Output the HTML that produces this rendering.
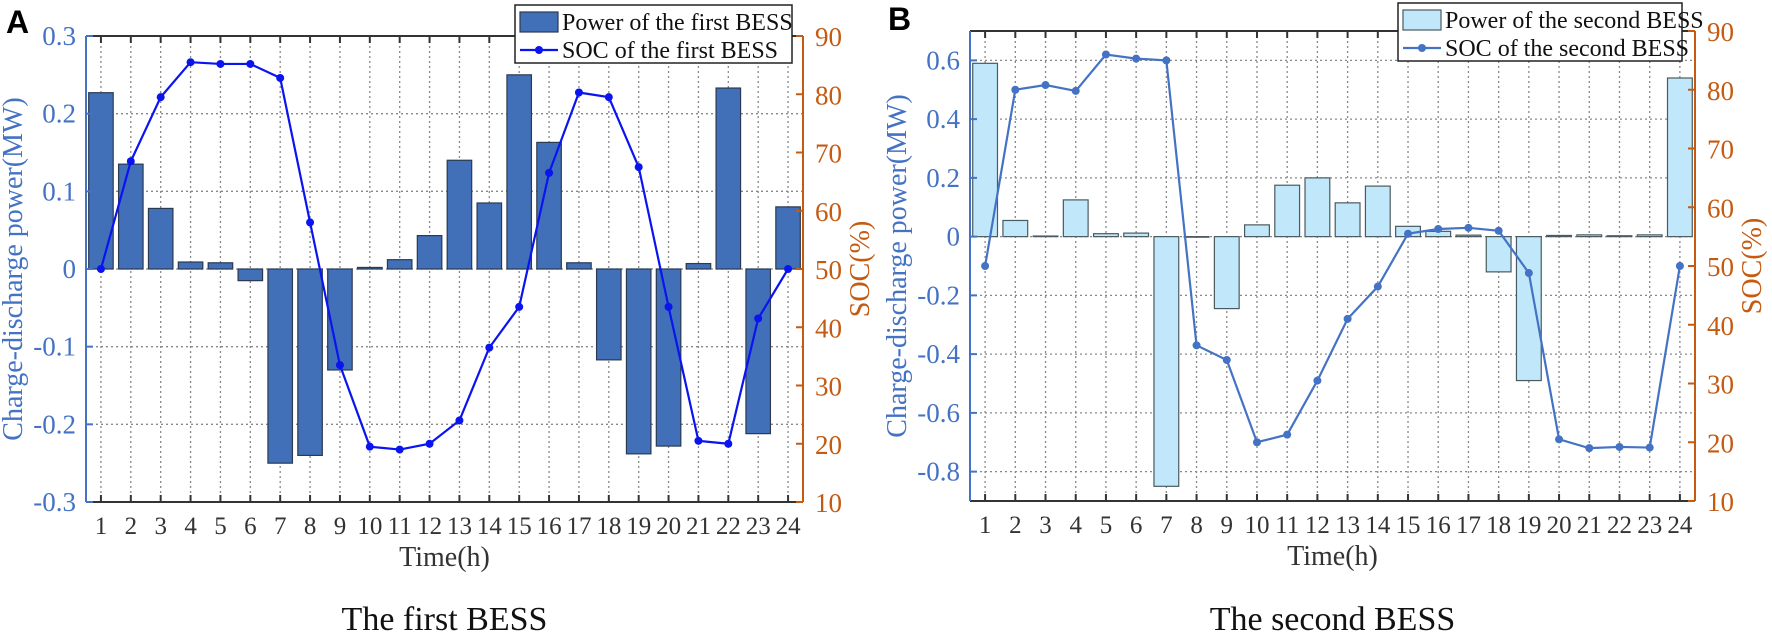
<!DOCTYPE html><html><head><meta charset="utf-8"><style>body{margin:0;background:#fff}svg{display:block}svg text{font-family:"Liberation Serif","Times New Roman",serif}svg text.lab{font-family:"Liberation Sans",sans-serif}</style></head><body>
<svg id="s" width="1772" height="641" font-family="Liberation Serif, serif" xmlns="http://www.w3.org/2000/svg"></svg>
<script>
const S=document.getElementById('s');let h='';
const F='font-family="Liberation Serif, serif"';
function panel(o){
 const {L,R,T,B,ymin,ymax,yt,pw,soc,bar,barE,line,label,title,leg,lx,ly,lw,lh,lab}=o;
 const n=24,dx=(R-L)/n,X=i=>L+dx*(i+0.5),Y=v=>B-(v-ymin)/(ymax-ymin)*(B-T),Ys=v=>B-(v-10)/80*(B-T);
 for(let i=0;i<n;i++)h+=`<line x1="${X(i)}" y1="${T}" x2="${X(i)}" y2="${B}" stroke="#888" stroke-width="1.3" stroke-dasharray="2,3"/>`;
 yt.forEach(v=>h+=`<line x1="${L}" y1="${Y(v)}" x2="${R}" y2="${Y(v)}" stroke="#888" stroke-width="1.3" stroke-dasharray="2,3"/>`);
 pw.forEach((v,i)=>{const y0=Y(0),y1=Y(v);h+=`<rect x="${X(i)-dx*0.41}" y="${Math.min(y0,y1)}" width="${dx*0.82}" height="${Math.abs(y1-y0)}" fill="${bar}" stroke="${barE}" stroke-width="1.2"/>`});
 h+=`<polyline fill="none" stroke="${line}" stroke-width="2.2" points="${soc.map((v,i)=>X(i)+','+Ys(v)).join(' ')}"/>`;
 soc.forEach((v,i)=>h+=`<circle cx="${X(i)}" cy="${Ys(v)}" r="4" fill="${line}"/>`);
 h+=`<line x1="${L}" y1="${T}" x2="${R}" y2="${T}" stroke="#333" stroke-width="2"/><line x1="${L}" y1="${B}" x2="${R}" y2="${B}" stroke="#333" stroke-width="2"/>`;
 h+=`<line x1="${L}" y1="${T}" x2="${L}" y2="${B}" stroke="#4472c4" stroke-width="2"/><line x1="${R}" y1="${T}" x2="${R}" y2="${B}" stroke="#c55a11" stroke-width="2"/>`;
 for(let i=0;i<n;i++){h+=`<line x1="${X(i)}" y1="${T}" x2="${X(i)}" y2="${T+7}" stroke="#333" stroke-width="2"/><line x1="${X(i)}" y1="${B}" x2="${X(i)}" y2="${B-7}" stroke="#333" stroke-width="2"/>`;
  h+=`<text ${F} x="${X(i)}" y="${B+32}" font-size="25" text-anchor="middle" fill="#333">${i+1}</text>`;}
 yt.forEach(v=>{h+=`<line x1="${L}" y1="${Y(v)}" x2="${L+7}" y2="${Y(v)}" stroke="#4472c4" stroke-width="2"/><text ${F} x="${L-10}" y="${Y(v)+9}" font-size="27" text-anchor="end" fill="#4472c4">${v==0?'0':(Math.round(v*10)/10)}</text>`});
 for(let v=10;v<=90;v+=10)h+=`<line x1="${R}" y1="${Ys(v)}" x2="${R-7}" y2="${Ys(v)}" stroke="#c55a11" stroke-width="2"/><text ${F} x="${R+12}" y="${Ys(v)+10}" font-size="27" fill="#c55a11">${v}</text>`;
 h+=`<text ${F} transform="translate(${L-64},${(T+B)/2}) rotate(-90)" font-size="28" text-anchor="middle" fill="#4472c4">Charge-discharge power(MW)</text>`;
 h+=`<text ${F} transform="translate(${R+66},${(T+B)/2}) rotate(-90)" font-size="28" text-anchor="middle" fill="#c55a11">SOC(%)</text>`;
 h+=`<text ${F} x="${(L+R)/2}" y="${B+64}" font-size="28" text-anchor="middle" fill="#333">Time(h)</text>`;
 h+=`<text ${F} x="${(L+R)/2}" y="630" font-size="34" text-anchor="middle" fill="#111">${title}</text>`;
 h+=`<text class="lab" x="${lab[0]}" y="${lab[1]}" font-size="32" font-weight="bold" fill="#000">${label}</text>`;
 h+=`<rect x="${lx}" y="${ly}" width="${lw}" height="${lh}" fill="#fff" stroke="#222" stroke-width="1.5"/>`;
 h+=`<rect x="${lx+5}" y="${ly+7}" width="38" height="20" fill="${bar}" stroke="${barE}" stroke-width="1.2"/>`;
 h+=`<line x1="${lx+5}" y1="${ly+45}" x2="${lx+43}" y2="${ly+45}" stroke="${line}" stroke-width="2.2"/><circle cx="${lx+24}" cy="${ly+45}" r="4" fill="${line}"/>`;
 h+=`<text ${F} x="${lx+47}" y="${ly+25}" font-size="24" fill="#111">${leg[0]}</text><text ${F} x="${lx+47}" y="${ly+53}" font-size="24" fill="#111">${leg[1]}</text>`;
}
panel({L:86,R:803,T:36,B:502,ymin:-0.3,ymax:0.3,yt:[-0.3,-0.2,-0.1,0,0.1,0.2,0.3],
 pw:[0.227,0.135,0.078,0.009,0.008,-0.015,-0.25,-0.24,-0.13,0.002,0.012,0.043,0.14,0.085,0.25,0.163,0.008,-0.117,-0.238,-0.228,0.007,0.233,-0.212,0.08],
 soc:[50,68.5,79.5,85.5,85.2,85.2,82.8,58,33.5,19.5,19,20,24,36.5,43.5,66.5,80.3,79.5,67.5,43.5,20.5,20,41.5,50],
 bar:'#4170b8',barE:'#2b3a50',line:'#0a14f0',label:'A',title:'The first BESS',
 leg:['Power of the first BESS','SOC of the first BESS'],lx:515,ly:5,lw:277,lh:58,lab:[6,33]});
panel({L:970,R:1695,T:31,B:501,ymin:-0.9,ymax:0.7,yt:[-0.8,-0.6,-0.4,-0.2,0,0.2,0.4,0.6],
 pw:[0.59,0.055,0.002,0.125,0.01,0.012,-0.85,-0.002,-0.245,0.04,0.175,0.2,0.115,0.172,0.035,0.018,0.005,-0.12,-0.49,0.004,0.006,0.003,0.006,0.54],
 soc:[50,80,80.8,79.8,86,85.3,85,36.5,34,20,21.3,30.5,41,46.5,55.5,56.3,56.5,56,48.8,20.5,19,19.2,19.1,50],
 bar:'#c0e8fa',barE:'#4a5a60',line:'#4472c4',label:'B',title:'The second BESS',
 leg:['Power of the second BESS','SOC of the second BESS'],lx:1398,ly:3,lw:284,lh:58,lab:[888,30]});
S.innerHTML=h;
</script></body></html>
